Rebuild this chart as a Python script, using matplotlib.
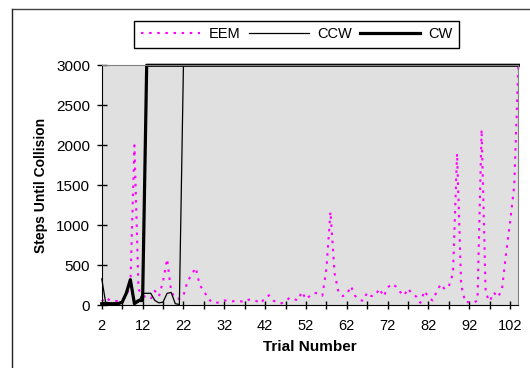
import matplotlib
matplotlib.use("Agg")
import matplotlib.pyplot as plt
from matplotlib.lines import Line2D
import numpy as np

plt.rcParams["font.family"] = ["Liberation Sans", "DejaVu Sans"]

trials = list(range(2, 105))

eem = [50, 100, 60, 50, 55, 60, 120, 250, 2000, 200,
       120, 100, 80, 180, 110, 300, 580, 170, 90, 80,
       120, 300, 380, 470, 250, 180, 90, 35, 30, 40,
       60, 60, 50, 55, 50, 40, 70, 70, 50, 25,
       100, 125, 60, 30, 25, 50, 95, 80, 60, 170,
       75, 120, 155, 150, 120, 450, 1170, 400, 160, 115,
       135, 240, 120, 70, 55, 160, 115, 125, 210, 110,
       220, 270, 235, 170, 120, 210, 140, 110, 30, 180,
       100, 60, 170, 265, 200, 240, 400, 1900, 250, 40,
       40, 30, 60, 2200, 150, 50, 160, 100, 200, 650,
       1050, 1500, 3000]

ccw_start = [330, 20, 15, 15, 15, 30, 150, 300, 20, 40,
             150, 150, 150, 60, 30, 40, 150, 160, 20, 10]
ccw = ccw_start + [3000] * (len(trials) - len(ccw_start))

cw_start = [20, 25, 20, 20, 20, 40, 150, 320, 20, 60, 60]
cw = cw_start + [3000] * (len(trials) - len(cw_start))

fig = plt.figure(figsize=(5.3, 3.68), dpi=100)
ax = fig.add_axes([0.192, 0.1704, 0.786, 0.6522])
ax.set_facecolor("#e0e0e0")

ax.plot(trials, eem, color="#ff00ff", lw=1.5, dashes=(1.2, 2.7), label="EEM", clip_on=False)
ax.plot(trials, ccw, color="black", lw=0.9, label="CCW", clip_on=False)
ax.plot(trials, cw, color="black", lw=2.3, label="CW", clip_on=False)

ax.set_xlim(2, 104)
ax.set_ylim(0, 3000)
ax.set_xticks(np.arange(2, 103, 10))
ax.set_xticks(np.arange(7, 103, 10), minor=True)
ax.set_yticks(np.arange(0, 3001, 500))
ax.tick_params(axis="x", which="both", direction="inout", length=6, width=1, labelsize=10.5, pad=7)
ax.tick_params(axis="y", direction="inout", length=7, width=1, labelsize=11, pad=5)

for side in ["left", "bottom"]:
    ax.spines[side].set_color("black")
for side in ["top", "right"]:
    ax.spines[side].set_color("#808080")

ax.set_xlabel("Trial Number", fontsize=11, fontweight="bold", labelpad=5)
ax.set_ylabel("Steps Until Collision", fontsize=10, fontweight="bold", labelpad=6)

leg = fig.legend(loc="center", bbox_to_anchor=(0.5594, 0.9063), ncol=3, fontsize=10.5,
                 handlelength=4.1, handletextpad=0.55, columnspacing=0.6,
                 fancybox=False, framealpha=1, edgecolor="black", borderpad=0.45)
leg.get_frame().set_linewidth(1)

# outer chart frame
fig.add_artist(Line2D([12 / 530, 12 / 530], [0, 1 - 9 / 368], color="#202020", lw=1))
fig.add_artist(Line2D([12 / 530, 1], [1 - 9 / 368, 1 - 9 / 368], color="#404040", lw=1))

fig.savefig("out.png", dpi=100)
